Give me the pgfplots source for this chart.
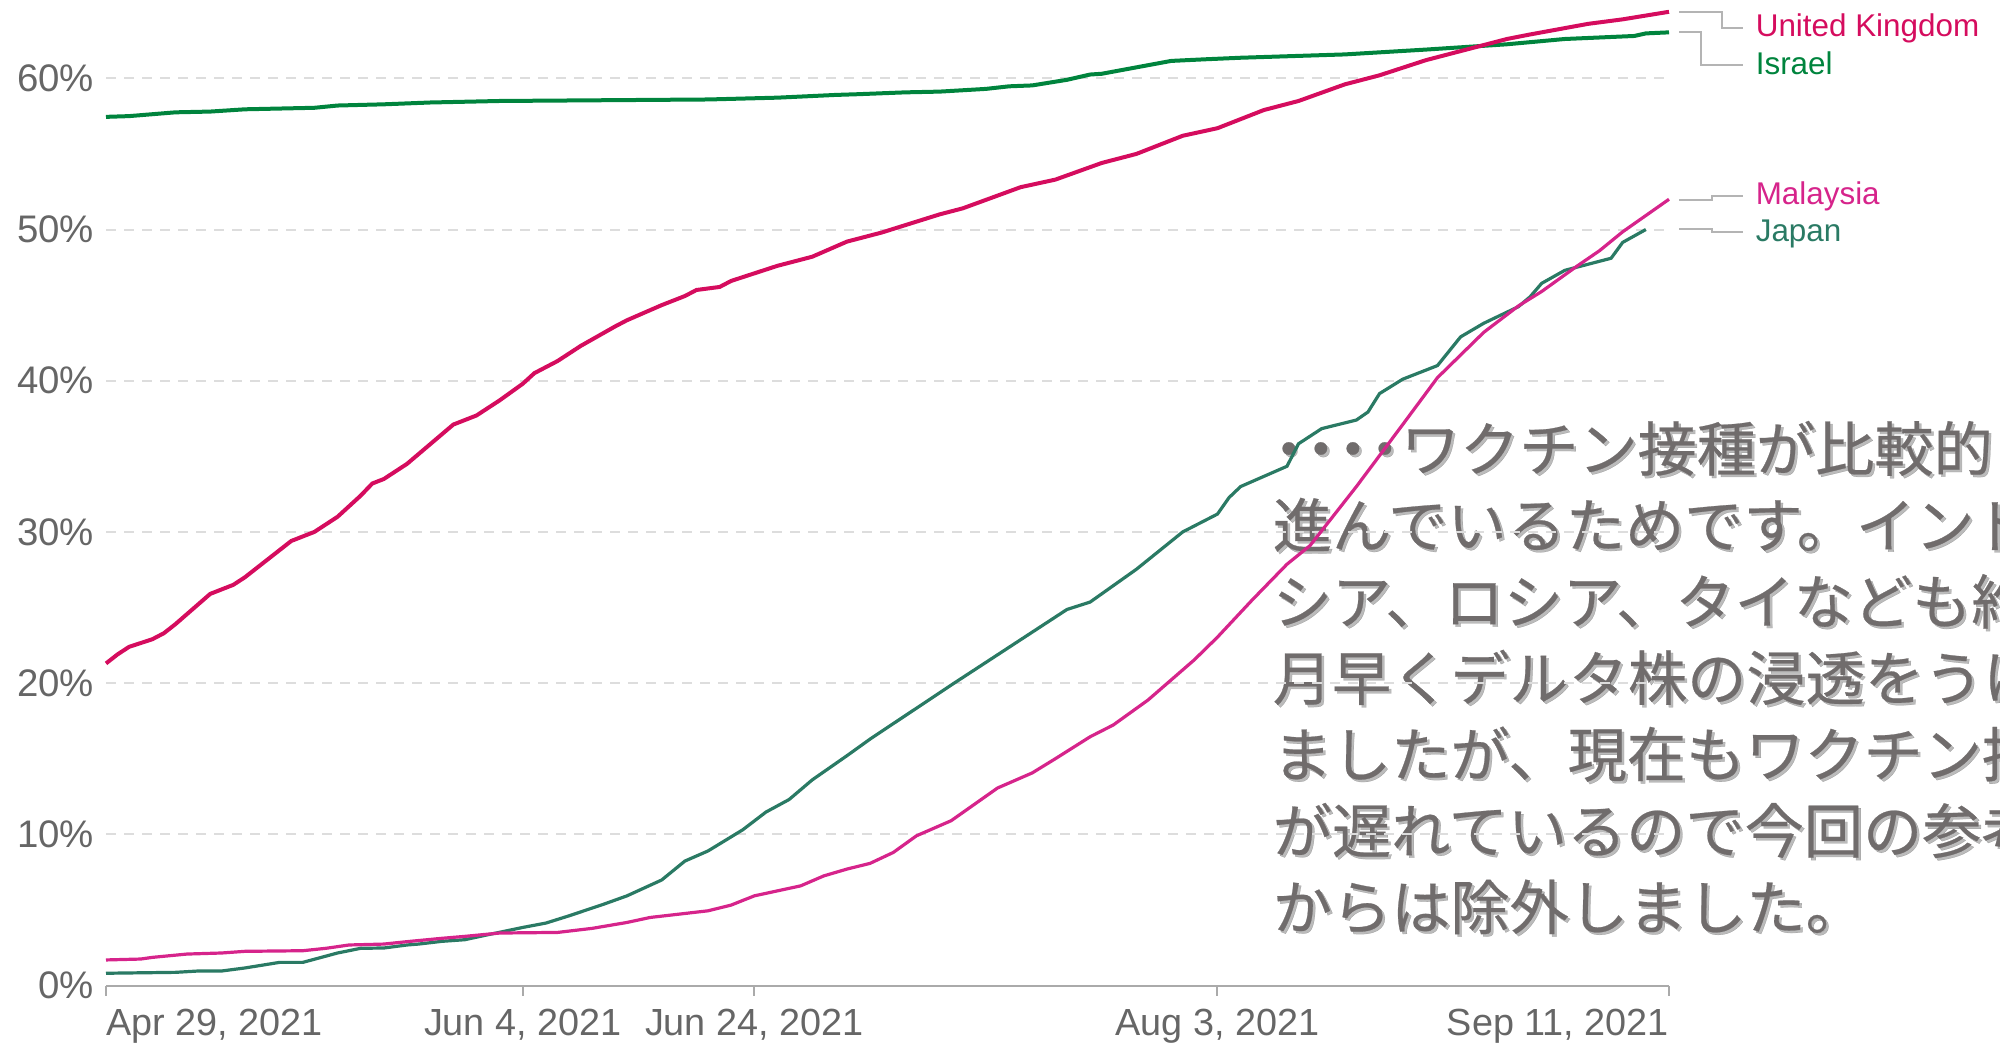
\documentclass[border=0pt]{standalone}
\usepackage{fontspec}
\setmainfont{Liberation Sans}
\newfontfamily\jp[FakeBold=0.4]{Noto Sans CJK JP}
\usepackage{pgfplots}
\pgfplotsset{compat=1.18}

\definecolor{ukc}{RGB}{213,12,94}
\definecolor{ilc}{RGB}{0,132,61}
\definecolor{myc}{RGB}{214,36,139}
\definecolor{jpc}{RGB}{42,122,100}
\definecolor{tickgray}{RGB}{102,102,102}
\definecolor{axgray}{RGB}{170,170,170}
\definecolor{gridgray}{RGB}{221,221,221}
\definecolor{conngray}{RGB}{180,180,180}
\definecolor{jtxt}{RGB}{112,108,108}
\definecolor{jshadow}{RGB}{60,60,60}

\newcommand\jpfont{\jp\fontsize{14.8}{19}\selectfont}
\newcommand\jdot{\makebox[8pt]{・}}
% one line of the note, with its soft shadow
\newcommand\jline[2]{%
  \node[anchor=base west, inner sep=0pt, text=jshadow, opacity=0.35, font=\jpfont] at (1274.5,{#1+2.5}) {#2};
  \node[anchor=base west, inner sep=0pt, text=jtxt, font=\jpfont] at (1272,#1) {#2};}

\begin{document}
\begin{tikzpicture}[x=0.25pt,y=-0.25pt]
\useasboundingbox (0,0) rectangle (2000,1045);
\clip (0,0) rectangle (2000,1045);
\coordinate (A) at (106,985.5);

% note text (behind the lines)
\jline{471}{\jdot\jdot\jdot\jdot ワクチン接種が比較的に}
\jline{547.4}{進んでいるためです。インドネ}
\jline{623.8}{シア、ロシア、タイなども約1ヶ}
\jline{700.2}{月早くデルタ株の浸透をうけ}
\jline{776.6}{ましたが、現在もワクチン接種}
\jline{853}{が遅れているので今回の参考}
\jline{929.4}{からは除外しました。}

\begin{axis}[
  at={(A)}, anchor=south west,
  scale only axis, width=390.75pt, height=245.7pt,
  xmin=0, xmax=135, ymin=0, ymax=65,
  clip=false,
  separate axis lines,
  axis x line*=bottom, axis y line*=left,
  x axis line style={draw=axgray, line width=0.5pt},
  y axis line style={draw=none},
  ytick={0,10,...,60},
  yticklabels={0\%,10\%,20\%,30\%,40\%,50\%,60\%},
  xtick={0,36,56,96,135},
  xticklabels={{\rlap{Apr 29, 2021}},{Jun 4, 2021},{Jun 24, 2021},{Aug 3, 2021},{\llap{Sep 11, 2021}}},
  tick align=outside, major tick length=2.5pt,
  xtick style={draw=axgray, line width=0.5pt},
  ytick style={draw=none},
  ymajorgrids,
  grid style={dash pattern=on 2.5pt off 2pt, gridgray, line width=0.5pt},
  yticklabel style={anchor=east, inner sep=0pt, xshift=-0.3pt, text=tickgray, font=\fontsize{9.6}{11}\selectfont},
  xticklabel style={anchor=base, inner sep=0pt, yshift=-10.1pt, text=tickgray, font=\fontsize{9.45}{11}\selectfont},
]
% Israel
\addplot[ilc, line width=1pt] coordinates {
(0,57.45) (2,57.5) (6,57.75) (9,57.8) (12,57.95) (18,58.05) (20,58.2) (24,58.28)
(28,58.4) (34,58.5) (43,58.55) (52,58.6) (58,58.72) (63,58.9) (65,58.95) (69,59.07)
(72,59.12) (76,59.3) (78,59.47) (80,59.53) (83,59.9) (85,60.25) (86,60.3) (92,61.15)
(95,61.26) (98,61.36) (107,61.58) (114,61.9) (121,62.25) (126,62.6) (132,62.8)
(133,62.97) (135,63.04)};
% United Kingdom
\addplot[ukc, line width=1pt] coordinates {
(0,21.3) (1,21.9) (2,22.4) (4,22.9) (5,23.3) (6,23.9) (9,25.9) (11,26.5) (12,27.0)
(13,27.6) (16,29.4) (18,30.0) (20,31.0) (22,32.4) (23,33.2) (24,33.5) (26,34.5)
(30,37.1) (32,37.7) (34,38.7) (36,39.8) (37,40.5) (39,41.3) (41,42.3) (44,43.6)
(45,44.0) (48,45.0) (50,45.6) (51,46.0) (53,46.2) (54,46.6) (58,47.6) (61,48.2)
(64,49.2) (67,49.8) (72,51.0) (74,51.4) (79,52.8) (82,53.3) (86,54.4) (89,55.0)
(93,56.2) (96,56.7) (100,57.9) (103,58.5) (107,59.6) (110,60.2) (114,61.2) (117,61.8)
(121,62.6) (123,62.9) (128,63.6) (131,63.9) (135,64.4)};
% Japan
\addplot[jpc, line width=0.8pt] coordinates {
(0,0.81) (6,0.87) (8,0.96) (10,0.96) (12,1.16) (15,1.53) (17,1.53) (20,2.15) (22,2.46)
(24,2.48) (26,2.68) (27,2.74) (29,2.92) (31,3.03) (33,3.36) (36,3.84) (38,4.13)
(40,4.61) (43,5.38) (45,5.93) (48,6.98) (50,8.23) (52,8.9) (55,10.3) (57,11.47)
(59,12.3) (61,13.6) (64,15.2) (66,16.3) (73,19.87) (83,24.87) (85,25.36) (89,27.53)
(93,30.0) (96,31.18) (97,32.27) (98,33.0) (102,34.34) (103,35.83) (105,36.83)
(108,37.4) (109,37.93) (110,39.15) (112,40.1) (115,41.0) (117,42.9) (119,43.8)
(122,44.9) (123,45.55) (124,46.44) (126,47.3) (130,48.1) (131,49.15) (133,50.0)};
% Malaysia
\addplot[myc, line width=0.8pt] coordinates {
(0,1.69) (3,1.75) (4,1.86) (7,2.08) (10,2.15) (12,2.26) (17,2.3) (19,2.46) (21,2.68)
(24,2.74) (26,2.9) (29,3.12) (31,3.25) (34,3.47) (39,3.51) (42,3.78) (45,4.17)
(47,4.5) (52,4.94) (54,5.32) (56,5.93) (60,6.59) (62,7.25) (64,7.7) (66,8.08)
(68,8.8) (70,9.9) (73,10.9) (77,13.06) (80,14.06) (82,15.0) (85,16.45) (87,17.23)
(90,18.88) (94,21.54) (96,23.04) (99,25.5) (102,27.86) (104,29.1) (108,33.0)
(112,37.1) (115,40.2) (119,43.2) (122,44.95) (124,45.9) (127,47.55) (129,48.6)
(131,49.85) (135,52.0)};
\end{axis}

% end labels and their connectors
\begin{scope}[conngray, line width=0.5pt]
\draw (1679,12.3) -- (1722,12.3) -- (1722,28.3) -- (1743,28.3);
\draw (1679,32.3) -- (1701,32.3) -- (1701,65) -- (1743,65);
\draw (1679,200) -- (1712,200) -- (1712,196) -- (1743,196);
\draw (1679,229) -- (1712,229) -- (1712,232) -- (1743,232);
\end{scope}
\begin{scope}[every node/.style={anchor=base west, inner sep=0pt, font=\fontsize{7.85}{9}\selectfont}]
\node[text=ukc] at (1755,36.7) {United Kingdom};
\node[text=ilc] at (1755,75) {Israel};
\node[text=myc] at (1755,205) {Malaysia};
\node[text=jpc] at (1755,241.7) {Japan};
\end{scope}
\end{tikzpicture}
\end{document}
